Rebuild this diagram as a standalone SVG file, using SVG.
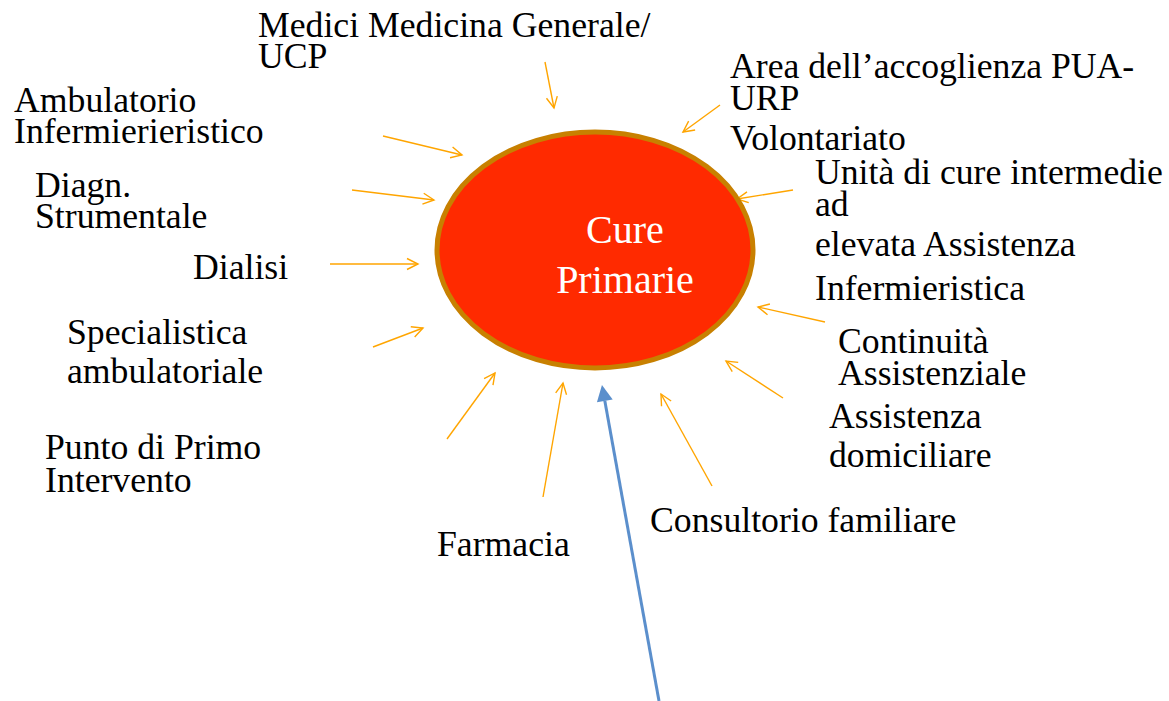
<svg xmlns="http://www.w3.org/2000/svg" width="1169" height="701" viewBox="0 0 1169 701">
<style>
.lbl{font-family:"Liberation Serif","Times New Roman",serif;font-size:35.7px;fill:#000}
.ctr{font-family:"Liberation Serif","Times New Roman",serif;font-size:40px;fill:#fff;text-anchor:middle}
.o{stroke:#FFA500;stroke-width:1.4;fill:none;marker-end:url(#oh)}
.b{stroke:#5B8FCC;stroke-width:3;fill:none;marker-end:url(#bh)}
</style>
<defs>
<marker id="oh" markerUnits="userSpaceOnUse" markerWidth="12" markerHeight="12" refX="11" refY="6" orient="auto" overflow="visible">
<path d="M0,0.5 L11,6 L0,11.5" stroke="#FFA500" stroke-width="1.4" fill="none"/>
</marker>
<marker id="bh" markerUnits="userSpaceOnUse" markerWidth="16" markerHeight="16" refX="0" refY="8" orient="auto" overflow="visible">
<path d="M0,0 L16,8 L0,16 z" fill="#5B8FCC"/>
</marker>
</defs>
<rect width="1169" height="701" fill="#fff"/>
<g id="connectors">
<line class="o" x1="545" y1="62" x2="554" y2="108"/>
<line class="o" x1="720" y1="105" x2="683" y2="132"/>
<line class="o" x1="793" y1="190" x2="737" y2="199"/>
<line class="o" x1="825" y1="322" x2="758" y2="307"/>
<line class="o" x1="783" y1="398" x2="726" y2="361"/>
<line class="o" x1="712" y1="486" x2="661" y2="394"/>
<line class="o" x1="543" y1="497" x2="563" y2="383"/>
<line class="o" x1="447" y1="439" x2="495" y2="373"/>
<line class="o" x1="373" y1="347" x2="423" y2="328"/>
<line class="o" x1="330" y1="264" x2="418" y2="264"/>
<line class="o" x1="352" y1="190" x2="434" y2="200"/>
<line class="o" x1="383" y1="136" x2="462" y2="155"/>
<line class="b" x1="659" y1="701" x2="604.8" y2="400.8"/>
</g>
<g id="cure-primarie">
<ellipse cx="595" cy="250" rx="158" ry="118" fill="#FF2A00" stroke="#C88000" stroke-width="5"/>
<text class="ctr" x="625" y="243">Cure</text>
<text class="ctr" x="625" y="293">Primarie</text>
</g>
<g id="medici"><text class="lbl" x="258" y="37">Medici Medicina Generale/</text><text class="lbl" x="258" y="68">UCP</text></g>
<g id="area-accoglienza"><text class="lbl" x="730" y="78">Area dell’accoglienza PUA-</text><text class="lbl" x="730" y="110">URP</text></g>
<g id="volontariato"><text class="lbl" x="730" y="150">Volontariato</text></g>
<g id="unita-cure"><text class="lbl" x="815" y="184">Unità di cure intermedie</text><text class="lbl" x="815" y="216">ad</text><text class="lbl" x="815" y="256">elevata Assistenza</text><text class="lbl" x="815" y="300">Infermieristica</text></g>
<g id="continuita"><text class="lbl" x="838" y="353">Continuità</text><text class="lbl" x="838" y="385">Assistenziale</text></g>
<g id="assistenza-domiciliare"><text class="lbl" x="829" y="428">Assistenza</text><text class="lbl" x="829" y="467">domiciliare</text></g>
<g id="consultorio"><text class="lbl" x="650" y="532">Consultorio familiare</text></g>
<g id="farmacia"><text class="lbl" x="437" y="556">Farmacia</text></g>
<g id="punto-primo-intervento"><text class="lbl" x="45" y="459">Punto di Primo</text><text class="lbl" x="45" y="492">Intervento</text></g>
<g id="specialistica"><text class="lbl" x="67" y="344">Specialistica</text><text class="lbl" x="67" y="383">ambulatoriale</text></g>
<g id="dialisi"><text class="lbl" x="193" y="279">Dialisi</text></g>
<g id="diagn"><text class="lbl" x="35" y="197">Diagn.</text><text class="lbl" x="35" y="228">Strumentale</text></g>
<g id="ambulatorio"><text class="lbl" x="14" y="112">Ambulatorio</text><text class="lbl" x="14" y="143">Infermierieristico</text></g>
</svg>
